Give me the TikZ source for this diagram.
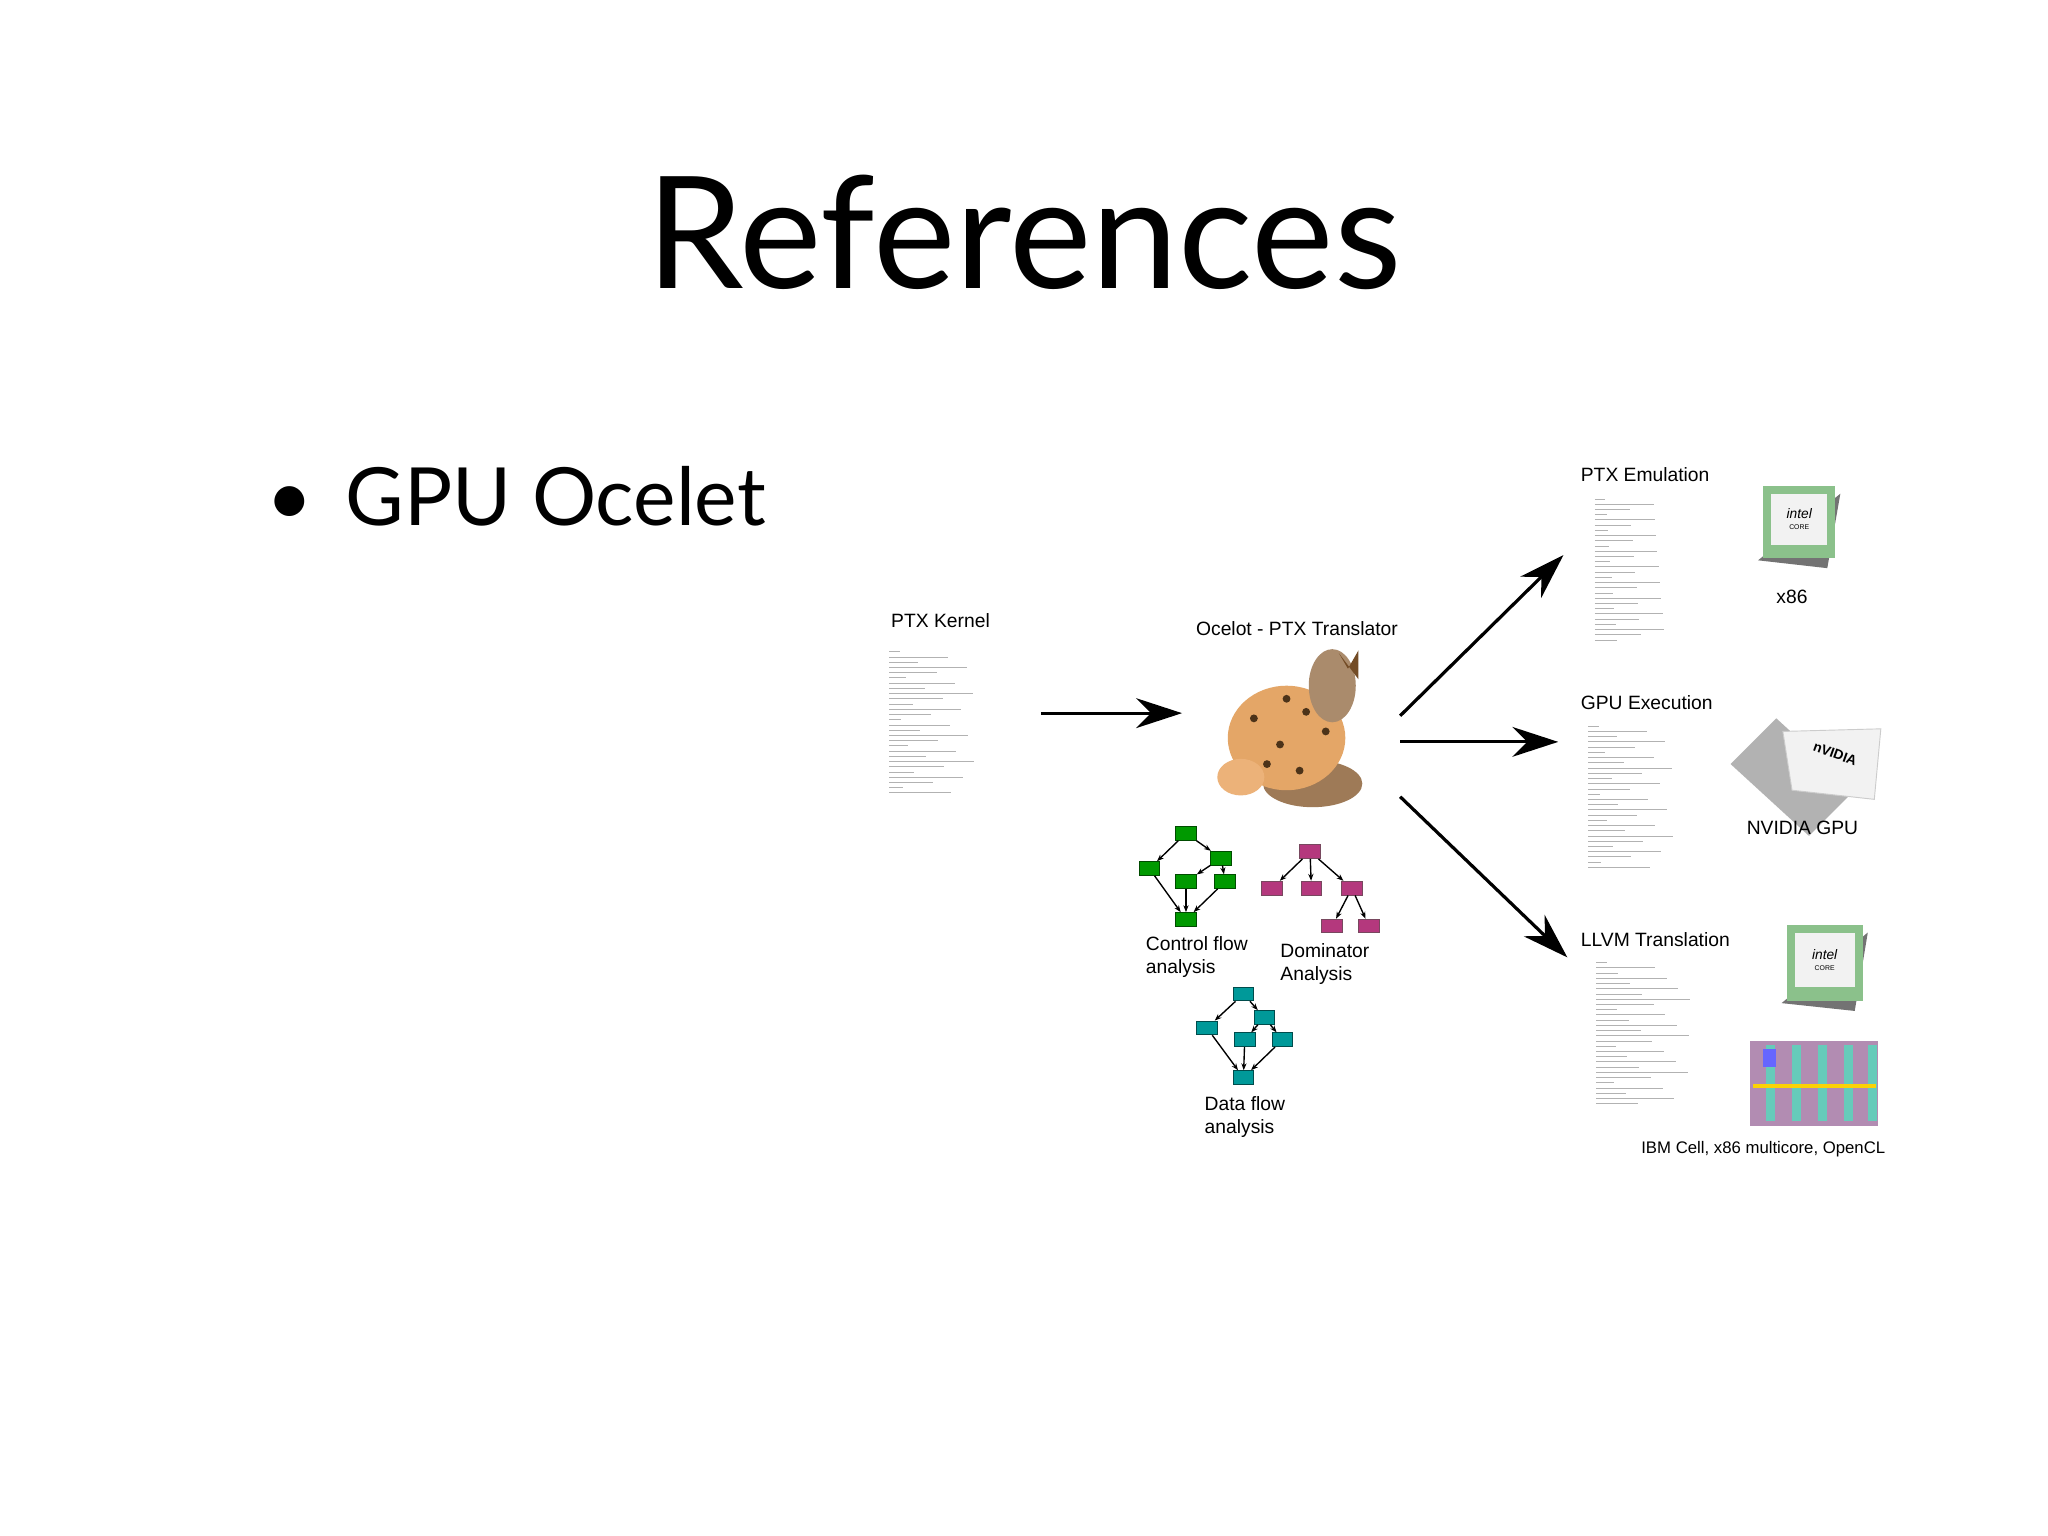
\documentclass[tikz,border=0pt]{standalone}
\usepackage{fontspec}
\setmainfont{Lato}
\newfontfamily\labfont{Liberation Sans}
\usetikzlibrary{arrows.meta,positioning}

% tiny listing lines
\newcommand{\codeblock}[4]{%
  \foreach \i in {0,...,#3} {
    \pgfmathsetmacro{\len}{8+mod(\i*37,#4)}
    \draw[codeline] (#1,#2+\i*4) -- ++(\len,0);
  }}
% intel chip
\newcommand{\intelchip}[3]{%
  \fill[black!55] (#1-4,#2+#3+2) -- (#1+#3-6,#2+#3+8) -- (#1+#3+4,#2+6) -- cycle;
  \fill[green!30!gray!70] (#1,#2) rectangle ++(#3,#3);
  \fill[gray!10] (#1+6,#2+6) rectangle ++(#3-12,#3-16);
  \node[font=\labfont\fontsize{6}{6}\selectfont\itshape] at (#1+#3/2,#2+#3/2-6) {intel};
  \node[font=\labfont\fontsize{3}{3}\selectfont] at (#1+#3/2,#2+#3/2+4) {CORE};}

\begin{document}
\begin{tikzpicture}[x=0.02cm,y=-0.02cm]

\tikzstyle{lab}=[font=\labfont\fontsize{8.4}{10}\selectfont, inner sep=0pt];
\tikzstyle{codeline}=[gray!60, line width=0.35pt];
\tikzstyle{big}=[-{Stealth[length=20pt,width=13pt]}, line width=1.4pt];
\tikzstyle{cfg}=[fill=green!60!black, draw=green!30!black, minimum width=9pt, minimum height=6pt, inner sep=0pt];
\tikzstyle{dom}=[fill=magenta!70!black, draw=magenta!40!black, minimum width=9pt, minimum height=6pt, inner sep=0pt];
\tikzstyle{dfa}=[fill=teal!80!cyan, draw=teal!60!black, minimum width=9pt, minimum height=6pt, inner sep=0pt];
\tikzstyle{edge}=[line width=0.6pt, -{Stealth[length=3pt]}];

\useasboundingbox[fill=white] (0,0) rectangle (1568,1176);

% title and bullet
\node[font=\fontsize{68}{72}\selectfont] (title) at (784,178) {References};
\node[font=\fontsize{35}{40}\selectfont, anchor=west] (item) at (198,380) {\textbullet\hspace{14pt}GPU Ocelet};

% PTX kernel
\node[lab, anchor=west] (kern) at (682,475) {PTX Kernel};
\codeblock{681}{499}{27}{60}
\coordinate (kout) at (797,546);

% translator and cat
\node[lab] (trans) at (993,481) {Ocelot - PTX Translator};
\coordinate (kin) at (905,546);
\fill[brown!70!black!80] (1005,600) ellipse (38 and 18);
\fill[brown!60!orange!70] (985,565) ellipse (45 and 40);
\fill[brown!70!black!70] (1020,525) ellipse (18 and 28);
\fill[brown!60!black] (1025,500) -- (1032,512) -- (1040,498) -- (1040,520) -- cycle;
\fill[brown!50!orange!60] (950,595) ellipse (18 and 14);
\foreach \px/\py in {960/550,980/570,1000/545,970/585,995/590,1015/560,985/535}
  \fill[brown!40!black] (\px,\py) circle (3);
\coordinate (t1) at (1072,548);
\coordinate (t2) at (1072,568);
\coordinate (t3) at (1072,610);

% control flow graph
\node[cfg] (c1) at (908,638) {};
\node[cfg] (c2) at (880,665) {};
\node[cfg] (c3) at (935,657) {};
\node[cfg] (c4) at (908,675) {};
\node[cfg] (c5) at (938,675) {};
\node[cfg] (c6) at (908,704) {};
\foreach \a/\b in {c1/c2,c1/c3,c3/c4,c3/c5,c2/c6,c4/c6,c5/c6}
  \draw[edge] (\a) -- (\b);
\node[lab, align=left, anchor=north west] (cl) at (877,717) {Control flow\\analysis};

% dominator tree
\node[dom] (d1) at (1003,652) {};
\node[dom] (d2) at (974,680) {};
\node[dom] (d3) at (1004,680) {};
\node[dom] (d4) at (1035,680) {};
\node[dom] (d5) at (1020,709) {};
\node[dom] (d6) at (1048,709) {};
\foreach \a/\b in {d1/d2,d1/d3,d1/d4,d4/d5,d4/d6}
  \draw[edge] (\a) -- (\b);
\node[lab, align=left, anchor=north west] (dl) at (980,722) {Dominator\\Analysis};

% data flow graph
\node[dfa] (f1) at (952,761) {};
\node[dfa] (f2) at (924,787) {};
\node[dfa] (f3) at (968,779) {};
\node[dfa] (f4) at (953,796) {};
\node[dfa] (f5) at (982,796) {};
\node[dfa] (f6) at (952,825) {};
\foreach \a/\b in {f1/f2,f1/f3,f3/f4,f3/f5,f2/f6,f4/f6,f5/f6}
  \draw[edge] (\a) -- (\b);
\node[lab, align=left, anchor=north west] (fl) at (922,839) {Data flow\\analysis};

% PTX emulation
\node[lab, anchor=west] (emu) at (1210,363) {PTX Emulation};
\coordinate (emuin) at (1197,425);
\codeblock{1221}{382}{27}{55}
\intelchip{1350}{372}{55}
\node[lab] (x86) at (1372,457) {x86};

% GPU execution
\node[lab, anchor=west] (gpu) at (1210,538) {GPU Execution};
\coordinate (gpuin) at (1193,568);
\codeblock{1216}{556}{27}{60}
\fill[gray!60] (1325,585) -- (1360,550) -- (1420,605) -- (1385,640) -- cycle;
\fill[gray!10, draw=gray!40] (1365,560) -- (1440,558) -- (1435,612) -- (1372,605) -- cycle;
\node[font=\labfont\bfseries\fontsize{6}{6}\selectfont, rotate=-20] at (1405,577) {nVIDIA};
\node[lab] (nv) at (1380,634) {NVIDIA GPU};

% LLVM translation
\node[lab, anchor=west] (llvm) at (1210,719) {LLVM Translation};
\coordinate (llvmin) at (1200,733);
\codeblock{1222}{737}{27}{65}
\intelchip{1368}{708}{58}
\fill[gray!50!violet!60] (1340,797) rectangle (1438,862);
\foreach \sx in {1352,1372,1392,1412,1430}
  \fill[cyan!50!green!60] (\sx,800) rectangle ++(7,58);
\fill[blue!60] (1350,803) rectangle ++(10,14);
\fill[yellow!70!orange] (1342,830) rectangle ++(94,3);
\node[lab, font=\labfont\fontsize{7.3}{9}\selectfont] (ibm) at (1350,880) {IBM Cell, x86 multicore, OpenCL};

% arrows
\draw[big] (kout) -- (kin);
\draw[big] (t1) -- (emuin);
\draw[big] (t2) -- (gpuin);
\draw[big] (t3) -- (llvmin);

\end{tikzpicture}
\end{document}
